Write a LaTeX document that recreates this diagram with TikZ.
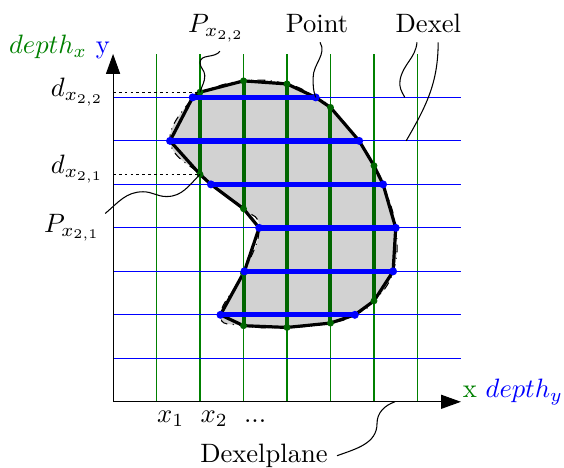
\documentclass[tikz,border=0pt]{standalone}
\usepackage{amsmath, amssymb}
\usepackage{tikz}
\usetikzlibrary{positioning,calc,arrows.meta}
\usepackage{xcolor}

\begin{document}
\begin{tikzpicture}[
    x=0.575cm, y=0.575cm,
    rayx/.style={draw=green!50!black, line width=0.45pt},
    rayy/.style={draw=blue, line width=0.45pt},
    axisline/.style={-{Triangle[length=7.5pt, width=5.3pt]}, black, line width=0.4pt},
    objfill/.style={fill=gray!35, draw=black, dash dot, line width=0.4pt},
    contour/.style={black, line width=1.2pt, line join=round},
    dexelv/.style={green!40!black, line width=1.5pt},
    dexelh/.style={blue, line width=2pt},
    leader/.style={black, line width=0.4pt},
    dashline/.style={black, dash pattern=on 1pt off 1.2pt, line width=0.4pt},
    tick/.style={anchor=base west, inner xsep=0pt},
]
\useasboundingbox (-2.6,-1.52) rectangle (10.37,9.24);

% Axes
\coordinate (O) at (0,0);
\coordinate (ytip) at (0,8);
\coordinate (xtip) at (8,0);

% Boundary points: blue = ends of the y-dexels, green = ends of the x-dexels
\coordinate (l7) at (1.83,7);  \coordinate (r7) at (4.66,7);
\coordinate (l6) at (1.31,6);  \coordinate (r6) at (5.66,6);
\coordinate (l5) at (2.25,5);  \coordinate (r5) at (6.21,5);
\coordinate (l4) at (3.36,4);  \coordinate (r4) at (6.50,4);
\coordinate (l3) at (3.02,3);  \coordinate (r3) at (6.44,3);
\coordinate (l2) at (2.47,2);  \coordinate (r2) at (5.56,2);
\coordinate (g2t) at (2,7.12); \coordinate (g2b) at (2,5.23);
\coordinate (g3t) at (3,7.38); \coordinate (g3m) at (3,4.44);
\coordinate (g3u) at (3,2.96); \coordinate (g3b) at (3,1.75);
\coordinate (g4t) at (4,7.31); \coordinate (g4b) at (4,1.71);
\coordinate (g5t) at (5,6.77); \coordinate (g5b) at (5,1.81);
\coordinate (g6t) at (6,5.43); \coordinate (g6b) at (6,2.32);

% Object
\draw[objfill] plot[smooth cycle, tension=0.8] coordinates {(l7) (g2t) (g3t) (g4t) (r7) (g5t) (r6) (g6t) (r5) (r4) (r3) (g6b) (r2) (g5b) (g4b) (g3b) (l2) (l3) (l4) (g3m) (l5) (g2b) (l6)};

% Dexel rays
\draw[rayx] (1,0) -- (1,8) (2,0) -- (2,8) (3,0) -- (3,8) (4,0) -- (4,8)
            (5,0) -- (5,8) (6,0) -- (6,8) (7,0) -- (7,8);
\draw[rayy] (0,1) -- (8,1) (0,2) -- (8,2) (0,3) -- (8,3) (0,4) -- (8,4)
            (0,5) -- (8,5) (0,6) -- (8,6) (0,7) -- (8,7);
\draw[axisline] (O) -- (ytip);
\draw[axisline] (O) -- (xtip);

% Polygon through the points
\draw[contour] (l7) -- (g2t) -- (g3t) -- (g4t) -- (r7) -- (g5t) -- (r6) -- (g6t) -- (r5) -- (r4) -- (r3) -- (g6b) -- (r2) -- (g5b) -- (g4b) -- (g3b) -- (l2) -- (l3) -- (l4) -- (g3m) -- (l5) -- (g2b) -- (l6) -- cycle;

% x-dexels
\draw[dexelv] (g2t) -- (g2b);
\draw[dexelv] (g3t) -- (g3m);
\draw[dexelv] (g3u) -- (g3b);
\draw[dexelv] (g4t) -- (g4b);
\draw[dexelv] (g5t) -- (g5b);
\draw[dexelv] (g6t) -- (g6b);
\foreach \p in {g2t,g2b,g3t,g3m,g3u,g3b,g4t,g4b,g5t,g5b,g6t,g6b}
  \fill[green!40!black] (\p) circle (1.3pt);

% y-dexels
\foreach \r in {2,...,7} {
  \draw[dexelh] (l\r) -- (r\r);
  \fill[blue] (l\r) circle (1.5pt) (r\r) circle (1.5pt);
}

% Depth guides
\draw[dashline] (g2t -| O) -- (g2t);
\draw[dashline] (g2b -| O) -- (g2b);
\node[anchor=east] (d22) at (0,7.12) {$d_{x_{2,2}}$};
\node[anchor=east] (d21) at (0,5.35) {$d_{x_{2,1}}$};

% Axis labels
\node[anchor=base east, inner xsep=1pt] (ylab) at (ytip) {$\textcolor{green!50!black}{depth_x}$ \textcolor{blue}{y}};
\node[anchor=base west, inner xsep=0.5pt, yshift=1.5pt] (xlab) at (xtip) {\textcolor{green!50!black}{x} $\textcolor{blue}{depth_y}$};
\node[tick] (x1) at (1,-0.48) {$x_1$};
\node[tick] (x2) at (2,-0.48) {$x_2$};
\node[tick] (xdots) at (3,-0.48) {...};

% Callouts
\node[anchor=base] (p22) at (2.37,8.49) {$P_{x_{2,2}}$};
\node[anchor=base] (point) at (4.69,8.49) {Point};
\node[anchor=base] (dexel) at (7.25,8.49) {Dexel};
\node (p21) at (-0.94,4.0) {$P_{x_{2,1}}$};
\node (plane) at (3.47,-1.24) {Dexelplane};
\coordinate (dx7) at (6.71,7);
\coordinate (dx6) at (6.74,6);
\coordinate (dp) at (6.48,0);

\draw[leader] ([xshift=0.5mm]p22.south) to[out=-125,in=90] (2.0,7.8) to[out=-90,in=90] (2.11,7.5) to[out=-90,in=75] (g2t);
\draw[leader] ([xshift=0.4mm]point.south) to[out=-60,in=90] (4.6,7.45) to[out=-90,in=110] (r7);
\draw[leader] ([xshift=-1.5mm]dexel.south) to[out=-95,in=80] (6.6,7.4) to[out=-100,in=120] (dx7);
\draw[leader] ([xshift=1.3mm]dexel.south) to[out=-90,in=60] (dx6);
\draw[leader] ([shift={(-0.1,-0.2)}]p21.north east) to[out=40,in=180] (0.69,4.83) to[out=0,in=180] (1.23,4.72) to[out=0,in=-135] (g2b);
\draw[leader] (plane.east) to[out=20,in=-90] (6.07,-0.5) to[out=90,in=-160] (dp);

\end{tikzpicture}
\end{document}
